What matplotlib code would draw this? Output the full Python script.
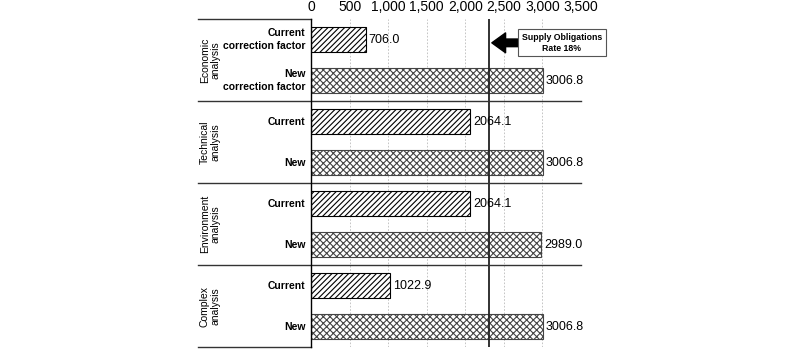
import numpy as np
import matplotlib.pyplot as plt
from matplotlib.transforms import blended_transform_factory

plt.rcParams['font.family'] = ['Liberation Sans', 'DejaVu Sans']
plt.rcParams['hatch.linewidth'] = 0.8

groups = ['Economic\nanalysis', 'Technical\nanalysis', 'Environment\nanalysis', 'Complex\nanalysis']
bar_labels = ['Current\ncorrection factor', 'New\ncorrection factor',
              'Current', 'New', 'Current', 'New', 'Current', 'New']
values = [706.0, 3006.8, 2064.1, 3006.8, 2064.1, 2989.0, 1022.9, 3006.8]
kinds = ['current', 'new'] * 4
obligation = 2310
ticks = [0, 500, 1000, 1500, 2000, 2500, 3000, 3500]

fig = plt.figure(figsize=(8, 3.53), dpi=100)
ax = fig.add_axes([0.389, 0.017, 0.337, 0.929])

y = np.arange(len(values))
for yi, v, k in zip(y, values, kinds):
    hatch = '//////' if k == 'current' else 'xxxxx'
    ec = 'black' if k == 'current' else '#444444'
    ax.barh(yi, v, height=0.63, color='white', edgecolor=ec, hatch=hatch, linewidth=0.8)
    ax.text(v + 40, yi, f'{v:.1f}', va='center', ha='left', fontsize=9)

ax.set_ylim(7.5, -0.5)
ax.set_xlim(0, 3500)
ax.xaxis.tick_top()
ax.set_xticks(ticks)
ax.set_xticklabels([f'{t:,}' for t in ticks], fontsize=10)
ax.tick_params(axis='x', length=0, pad=4)
ax.set_yticks([])
ax.grid(axis='x', color='#bbbbbb', linestyle=(0, (2, 2)), linewidth=0.6)
ax.set_axisbelow(True)
for s in ['top', 'right', 'bottom']:
    ax.spines[s].set_visible(False)
ax.spines['left'].set_linewidth(1.0)

ax.axvline(obligation, color='#222222', linewidth=1.3)

# left label panel
tr = blended_transform_factory(ax.transAxes, ax.transData)
x0 = -0.419
for yb in [-0.5, 7.5]:
    ax.plot([x0, 0], [yb, yb], color='#333333', linewidth=1.0, transform=tr, clip_on=False)
for yb in [1.5, 3.5, 5.5]:
    ax.plot([x0, 1], [yb, yb], color='#333333', linewidth=1.0, transform=tr, clip_on=False)

for yi, lab in zip(y, bar_labels):
    ax.text(-0.022, yi, lab, transform=tr, ha='right', va='center',
            fontsize=7.5, fontweight='bold', linespacing=1.4)

for gi, g in enumerate(groups):
    ax.text(-0.374, gi * 2 + 0.5, g, transform=tr, ha='center', va='center',
            rotation=90, fontsize=7.5, linespacing=1.1)

ax.annotate('', xy=(2345, 0.08), xytext=(2690, 0.08),
            arrowprops=dict(arrowstyle='simple,head_width=1.3,head_length=0.9,tail_width=0.5',
                            color='black', mutation_scale=11, shrinkA=0, shrinkB=0))
ax.text(3255, 0.08, 'Supply Obligations\nRate 18%', ha='center', va='center',
        fontsize=6.3, fontweight='bold', linespacing=1.2, clip_on=False,
        bbox=dict(boxstyle='square,pad=0.45', facecolor='white', edgecolor='#555555', linewidth=0.8))

fig.savefig('out.png', dpi=100)
